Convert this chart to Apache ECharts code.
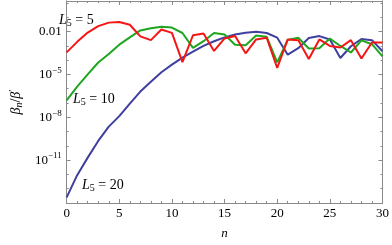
<!DOCTYPE html>
<html><head><meta charset="utf-8">
<script src="https://cdn.jsdelivr.net/npm/echarts@6/dist/echarts.min.js"></script>
<style>html,body{margin:0;padding:0;background:#fff}#c{width:392px;height:245px}</style>
</head><body><div id="c"></div>
<script>
const nValues = Array.from({length: 31}, (_, i) => i);
// beta_n / beta'
const red5 = [3.5e-4,1.9e-3,8.5e-3,2.4e-2,4.2e-2,4.6e-2,3.0e-2,4.6e-3,2.5e-3,1.4e-2,8.1e-3,7.2e-5,5.5e-3,7.2e-3,4.4e-4,3.3e-3,4.8e-3,3.0e-4,2.8e-3,3.7e-3,2.8e-5,2.8e-3,2.5e-3,1.2e-4,2.8e-3,9.8e-4,7.6e-4,2.5e-3,1.3e-4,1.7e-3,1.7e-3];
const green10 = [1.5e-7,1.4e-6,1.0e-5,6.8e-5,2.7e-4,1.2e-3,3.9e-3,1.2e-2,1.7e-2,2.2e-2,1.9e-2,7.9e-3,7.1e-4,2.1e-3,7.9e-3,6.2e-3,1.2e-3,1.1e-3,5.2e-3,4.3e-3,6.9e-5,2.6e-3,3.7e-3,6.5e-4,6.8e-4,3.2e-3,9.8e-4,3.4e-4,2.4e-3,1.3e-3,1.8e-4];
const blue20 = [2.5e-14,8.9e-13,1.5e-11,2.2e-10,2.2e-9,1.2e-8,8.9e-8,6.3e-7,3.1e-6,1.4e-5,4.8e-5,1.5e-4,3.9e-4,1.0e-3,2.1e-3,3.9e-3,6.2e-3,8.3e-3,9.5e-3,7.9e-3,3.7e-3,2.4e-4,6.8e-4,3.5e-3,4.8e-3,2.8e-3,1.4e-4,9.3e-4,3.0e-3,2.5e-3,4.2e-4];
const xTicks = [0,5,10,15,20,25,30];
const yTickExps = [-2,-5,-8,-11];

const FONT = 'Liberation Serif';
const frame = '#8a8a8a';
const chart = echarts.init(document.getElementById('c'), null, {renderer:'canvas'});

function legendRich(){
  return {
    i:{fontFamily:FONT,fontSize:14,fontStyle:'italic',fill:'#000',color:'#000'},
    s:{fontFamily:FONT,fontSize:10,fill:'#000',color:'#000',padding:[6,0,0,0]},
    t:{fontFamily:FONT,fontSize:14,fill:'#000',color:'#000'}
  };
}
function yLabel(v){
  const e = Math.round(Math.log10(v));
  if (Math.abs(Math.log10(v) - e) > 0.01) return '';
  if (yTickExps.indexOf(e) < 0) return '';
  if (e === -2) return '{b|0.01}';
  return '{b|10}{s|\u2212' + (-e) + '}';
}
const yRich = {
  b:{fontFamily:FONT,fontSize:13,color:'#000'},
  s:{fontFamily:FONT,fontSize:9,color:'#000',padding:[0,0,8,0]}
};
const baseX = {
  type:'value', min:0, max:30, interval:5,
  axisLine:{show:true,lineStyle:{color:frame,width:1}},
  axisTick:{show:true,inside:true,length:4,lineStyle:{color:frame}},
  minorTick:{show:true,splitNumber:5,length:2,lineStyle:{color:frame}},
  splitLine:{show:false}, minorSplitLine:{show:false}
};
const baseY = {
  type:'log', logBase:10, min:1e-14, max:1.37,
  axisLine:{show:true,lineStyle:{color:frame,width:1}},
  splitLine:{show:false}
};
function mk(arr){ return nValues.map((n,i)=>[n,arr[i]]); }

chart.setOption({
  animation:false,
  grid:{left:55,right:5,top:1,bottom:39,containLabel:false},
  xAxis:[
    Object.assign({}, baseX, {position:'bottom',
      axisLabel:{show:true,margin:4,fontFamily:FONT,fontSize:13,color:'#000',
        formatter:v=> xTicks.indexOf(v)>=0 ? String(v) : ''},
      name:'n', nameLocation:'middle', nameGap:24,
      nameTextStyle:{fontFamily:FONT,fontSize:13,fontStyle:'italic',color:'#000'}}),
    Object.assign({}, baseX, {position:'top', axisLabel:{show:false}})
  ],
  yAxis:[
    Object.assign({}, baseY, {position:'left', interval:3,
      axisTick:{show:true,inside:true,length:4,lineStyle:{color:frame}},
      axisLabel:{show:true,margin:5,formatter:yLabel,rich:yRich},
      name:'{i|\u03b2}{sb|n}{t|/}{i|\u03b2}{p|\u2032}', nameLocation:'middle', nameGap:32, nameRotate:90,
      nameTextStyle:{rich:{
        i:{fontFamily:FONT,fontSize:14,fontStyle:'italic',color:'#000'},
        sb:{fontFamily:FONT,fontSize:10,fontStyle:'italic',color:'#000',padding:[6,0,0,0]},
        t:{fontFamily:FONT,fontSize:14,color:'#000'},
        p:{fontFamily:FONT,fontSize:10,color:'#000',padding:[0,0,6,0]}
      }}}),
    Object.assign({}, baseY, {position:'left', interval:1,
      axisTick:{show:true,inside:true,length:2,lineStyle:{color:frame}},
      axisLabel:{show:false}}),
    Object.assign({}, baseY, {position:'right', interval:3,
      axisTick:{show:true,inside:true,length:4,lineStyle:{color:frame}},
      axisLabel:{show:false}}),
    Object.assign({}, baseY, {position:'right', interval:1,
      axisTick:{show:true,inside:true,length:2,lineStyle:{color:frame}},
      axisLabel:{show:false}})
  ],
  series:[
    {type:'line',name:'L5 = 20',data:mk(blue20),showSymbol:false,symbol:'none',
      lineStyle:{color:'#3f3f9f',width:2},itemStyle:{color:'#3f3f9f'}},
    {type:'line',name:'L5 = 10',data:mk(green10),showSymbol:false,symbol:'none',
      lineStyle:{color:'#1fa51f',width:2},itemStyle:{color:'#1fa51f'}},
    {type:'line',name:'L5 = 5',data:mk(red5),showSymbol:false,symbol:'none',
      lineStyle:{color:'#f51515',width:2},itemStyle:{color:'#f51515'}}
  ],
  graphic:[
    {type:'text',left:59,top:13,style:{text:'{i|L}{s|5}{t| = 5}',rich:legendRich()}},
    {type:'text',left:73,top:92,style:{text:'{i|L}{s|5}{t| = 10}',rich:legendRich()}},
    {type:'text',left:82,top:178,style:{text:'{i|L}{s|5}{t| = 20}',rich:legendRich()}}
  ]
});
</script></body></html>
